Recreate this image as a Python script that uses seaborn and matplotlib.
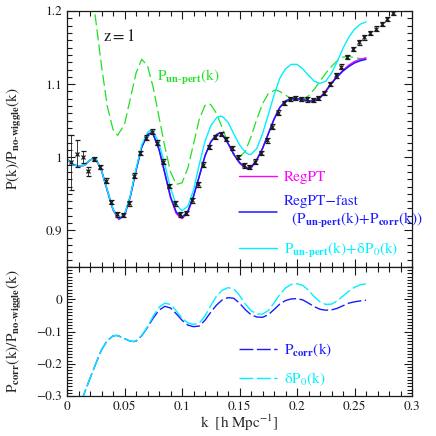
import matplotlib
matplotlib.use('Agg')
import matplotlib.pyplot as plt
import seaborn as sns
from matplotlib.ticker import MultipleLocator, FuncFormatter

# N-body data points (ratio to no-wiggle spectrum)
k_nbody = [0.0035, 0.0085, 0.0135, 0.0185, 0.0235, 0.0285, 0.0335, 0.0385, 0.0435, 0.0485,
           0.0535, 0.0585, 0.0635, 0.0685, 0.0735, 0.0785, 0.0835, 0.0885, 0.0935, 0.0985,
           0.1035, 0.1085, 0.1135, 0.1185, 0.1235, 0.1285, 0.1335, 0.1385, 0.1435, 0.1485,
           0.1535, 0.1585, 0.1635, 0.1685, 0.1735, 0.1785, 0.1835, 0.1885, 0.1935, 0.1985,
           0.2035, 0.2085, 0.2135, 0.2185, 0.2235, 0.2285, 0.2335, 0.2385, 0.2435, 0.2485,
           0.2535, 0.2585, 0.2635, 0.2685, 0.2735, 0.2785, 0.2835]
r_nbody = [0.993, 1.005, 1.000, 0.981, 0.998, 0.987, 0.968, 0.939, 0.922, 0.9215,
           0.937, 0.975, 1.006, 1.027, 1.035, 1.020, 0.994, 0.961, 0.937, 0.922,
           0.924, 0.941, 0.963, 0.990, 1.014, 1.028, 1.032, 1.025, 1.013, 1.000,
           0.989, 0.987, 0.994, 1.006, 1.023, 1.042, 1.061, 1.074, 1.080, 1.081,
           1.080, 1.079, 1.078, 1.081, 1.088, 1.100, 1.112, 1.124, 1.137, 1.148,
           1.157, 1.164, 1.170, 1.176, 1.182, 1.189, 1.197]
err_nbody = [0.038, 0.018, 0.008, 0.006] + [0.003] * 53

# model curves, top panel
k_model = [0.000, 0.005, 0.010, 0.015, 0.020, 0.023, 0.025, 0.030, 0.035, 0.040,
           0.045, 0.050, 0.055, 0.060, 0.065, 0.070, 0.0725, 0.075, 0.080, 0.085,
           0.090, 0.095, 0.100, 0.105, 0.110, 0.115, 0.120, 0.125, 0.130, 0.1325,
           0.135, 0.140, 0.145, 0.150, 0.155, 0.158, 0.160, 0.165, 0.170, 0.175,
           0.180, 0.185, 0.190, 0.195, 0.200, 0.205, 0.210, 0.215, 0.220, 0.225,
           0.230, 0.235, 0.240, 0.245, 0.250, 0.255, 0.260]
r_regpt_fast = [0.998, 0.990, 0.988, 0.989, 0.996, 0.999, 0.998, 0.982, 0.955, 0.929,
                0.916, 0.921, 0.946, 0.982, 1.014, 1.031, 1.033, 1.031, 1.011, 0.979,
                0.946, 0.925, 0.918, 0.926, 0.947, 0.974, 1.002, 1.021, 1.031, 1.033,
                1.031, 1.019, 1.004, 0.993, 0.986, 0.985, 0.986, 0.997, 1.012, 1.032,
                1.052, 1.068, 1.077, 1.080, 1.080, 1.079, 1.077, 1.077, 1.081, 1.090,
                1.101, 1.110, 1.118, 1.124, 1.129, 1.132, 1.134]
r_regpt = [0.998, 0.990, 0.988, 0.989, 0.996, 0.999, 0.998, 0.982, 0.954, 0.928,
           0.915, 0.920, 0.946, 0.982, 1.014, 1.031, 1.033, 1.031, 1.011, 0.978,
           0.945, 0.923, 0.916, 0.924, 0.946, 0.974, 1.002, 1.021, 1.031, 1.033,
           1.031, 1.019, 1.004, 0.992, 0.985, 0.984, 0.985, 0.996, 1.012, 1.032,
           1.052, 1.068, 1.077, 1.080, 1.080, 1.079, 1.077, 1.077, 1.082, 1.091,
           1.102, 1.111, 1.119, 1.126, 1.131, 1.134, 1.136]
r_unpert_dp0 = [0.998, 0.990, 0.988, 0.989, 0.996, 0.999, 0.998, 0.982, 0.955, 0.929,
                0.917, 0.922, 0.947, 0.984, 1.017, 1.034, 1.037, 1.036, 1.019, 0.990,
                0.958, 0.935, 0.927, 0.933, 0.955, 0.990, 1.022, 1.043, 1.054, 1.056,
                1.056, 1.048, 1.032, 1.017, 1.007, 1.004, 1.004, 1.012, 1.032, 1.058,
                1.085, 1.108, 1.121, 1.127, 1.127, 1.121, 1.112, 1.104, 1.101, 1.104,
                1.115, 1.131, 1.149, 1.164, 1.175, 1.182, 1.185]

k_unpert = [0.020, 0.024, 0.030, 0.035, 0.040, 0.044, 0.050, 0.055, 0.060, 0.065,
            0.070, 0.075, 0.080, 0.085, 0.090, 0.095, 0.100, 0.105, 0.110, 0.115,
            0.120, 0.123, 0.125, 0.130, 0.135, 0.140, 0.145, 0.150, 0.155, 0.160,
            0.165, 0.170, 0.175, 0.181, 0.185, 0.190, 0.195, 0.200, 0.205, 0.210,
            0.215, 0.220, 0.225, 0.230, 0.235, 0.240, 0.245, 0.250, 0.255, 0.260]
r_unpert = [1.260, 1.200, 1.125, 1.070, 1.038, 1.030, 1.045, 1.080, 1.115, 1.134,
            1.125, 1.095, 1.055, 1.015, 0.980, 0.963, 0.965, 0.985, 1.018, 1.052,
            1.071, 1.0735, 1.072, 1.060, 1.040, 1.020, 1.005, 1.000, 1.008, 1.028,
            1.052, 1.073, 1.087, 1.092, 1.090, 1.085, 1.080, 1.078, 1.079, 1.084,
            1.093, 1.104, 1.115, 1.124, 1.132, 1.137, 1.138, 1.136, 1.135, 1.134]

# correction terms, bottom panel
k_corr = [0.012, 0.015, 0.020, 0.025, 0.030, 0.035, 0.040, 0.043, 0.045, 0.050,
          0.055, 0.058, 0.060, 0.065, 0.070, 0.075, 0.080, 0.085, 0.090, 0.095,
          0.100, 0.105, 0.110, 0.115, 0.120, 0.125, 0.130, 0.135, 0.140, 0.145,
          0.150, 0.155, 0.160, 0.165, 0.170, 0.175, 0.180, 0.185, 0.190, 0.195,
          0.200, 0.205, 0.210, 0.215, 0.220, 0.225, 0.230, 0.235, 0.240, 0.245,
          0.250, 0.255, 0.260]
r_pcorr = [-0.320, -0.292, -0.245, -0.200, -0.157, -0.128, -0.114, -0.112, -0.114, -0.122,
           -0.130, -0.131, -0.130, -0.113, -0.087, -0.058, -0.034, -0.022, -0.027, -0.045,
           -0.065, -0.080, -0.085, -0.083, -0.065, -0.040, -0.018, -0.002, 0.005, 0.003,
           -0.012, -0.032, -0.048, -0.055, -0.056, -0.048, -0.032, -0.015, -0.004, 0.001,
           0.002, -0.002, -0.012, -0.023, -0.031, -0.034, -0.033, -0.028, -0.020, -0.012,
           -0.008, -0.005, -0.003]
r_dp0 = [-0.320, -0.292, -0.245, -0.200, -0.157, -0.128, -0.114, -0.112, -0.114, -0.122,
         -0.130, -0.131, -0.129, -0.112, -0.085, -0.052, -0.025, -0.012, -0.016, -0.036,
         -0.058, -0.073, -0.078, -0.074, -0.052, -0.020, 0.010, 0.028, 0.036, 0.032,
         0.012, -0.015, -0.035, -0.046, -0.046, -0.035, -0.012, 0.015, 0.035, 0.046,
         0.048, 0.043, 0.028, 0.008, -0.008, -0.016, -0.015, -0.005, 0.010, 0.025,
         0.037, 0.045, 0.048]

sns.set_theme(style='ticks')
plt.rcParams['font.family'] = ['STIXGeneral', 'DejaVu Serif']
plt.rcParams['mathtext.fontset'] = 'stix'
plt.rcParams['lines.scale_dashes'] = False

green = '#22e022'
magenta = '#ff00ff'
blue = '#1a1aff'
cyan = '#00f0ff'

fig = plt.figure(figsize=(4.36, 4.36), dpi=100)
ax1 = fig.add_axes([0.1537, 0.3876, 0.7913, 0.5872])
ax2 = fig.add_axes([0.1537, 0.0917, 0.7913, 0.2959])

fmt = FuncFormatter(lambda v, p: ('%g' % round(v, 3)).replace('-', '\u2212'))

# top panel
sns.lineplot(x=k_unpert, y=r_unpert, ax=ax1, color=green, linewidth=0.9, sort=False, estimator=None)
ax1.lines[-1].set_dashes([8, 3])
sns.lineplot(x=k_model, y=r_regpt, ax=ax1, color=magenta, linewidth=1.0, sort=False, estimator=None)
l_regpt = ax1.lines[-1]
sns.lineplot(x=k_model, y=r_regpt_fast, ax=ax1, color=blue, linewidth=1.1, sort=False, estimator=None)
l_fast = ax1.lines[-1]
sns.lineplot(x=k_model, y=r_unpert_dp0, ax=ax1, color=cyan, linewidth=1.0, sort=False, estimator=None)
l_dp0 = ax1.lines[-1]
ax1.errorbar(k_nbody, r_nbody, yerr=err_nbody, fmt='x', color='k', ms=3.2, mew=0.9,
             elinewidth=0.6, capsize=1.8, capthick=0.6, zorder=5)

ax1.set_xlim(0, 0.3)
ax1.set_ylim(0.85, 1.2)
ax1.xaxis.set_major_locator(MultipleLocator(0.05))
ax1.xaxis.set_minor_locator(MultipleLocator(0.01))
ax1.yaxis.set_major_locator(MultipleLocator(0.1))
ax1.yaxis.set_minor_locator(MultipleLocator(0.01))
ax1.yaxis.set_major_formatter(fmt)
ax1.tick_params(labelbottom=False)
ax1.set_ylabel(r'$\mathrm{P(k)/P_{\mathbf{no\text{-}wiggle}}(k)}$', fontsize=11)
ax1.yaxis.set_label_coords(-0.125, 0.5)

ax1.text(0.103, 0.898, r'$\mathrm{z = 1}$', transform=ax1.transAxes, fontsize=12,
         va='center', ha='left', color='k')
ax1.text(0.262, 0.742, r'$\mathrm{P_{\mathbf{un\text{-}pert}}(k)}$', transform=ax1.transAxes,
         fontsize=11, va='center', ha='left', color=green)

ax1.legend([l_regpt, l_fast, l_dp0],
           ['RegPT',
            'RegPT\u2212fast\n' + r'  $\mathrm{(P_{\mathbf{un\text{-}pert}}(k)\!+\!P_{\mathbf{corr}}(k))}$',
            r'$\mathrm{P_{\mathbf{un\text{-}pert}}(k)\!+\!\delta P_0(k)}$'],
           loc='upper left', bbox_to_anchor=(0.48, 0.40), frameon=False,
           fontsize=11, handlelength=2.5, handletextpad=0.45, labelspacing=0.7,
           labelcolor='linecolor', borderaxespad=0)

# bottom panel
sns.lineplot(x=k_corr, y=r_pcorr, ax=ax2, color=blue, linewidth=1.0, sort=False, estimator=None)
l_pcorr = ax2.lines[-1]
l_pcorr.set_dashes([10, 2.5])
sns.lineplot(x=k_corr, y=r_dp0, ax=ax2, color=cyan, linewidth=1.0, sort=False, estimator=None)
l_dp0b = ax2.lines[-1]
l_dp0b.set_dashes([10, 2.5])

ax2.set_xlim(0, 0.3)
ax2.set_ylim(-0.3, 0.1)
ax2.xaxis.set_major_locator(MultipleLocator(0.05))
ax2.xaxis.set_minor_locator(MultipleLocator(0.01))
ax2.yaxis.set_major_locator(MultipleLocator(0.1))
ax2.yaxis.set_minor_locator(MultipleLocator(0.01))
ax2.xaxis.set_major_formatter(fmt)
ax2.yaxis.set_major_formatter(fmt)
ax2.set_yticks([-0.3, -0.2, -0.1, 0])
ax2.set_xlabel(r'$\mathrm{k\ \ [h\ Mpc^{-1}]}$', fontsize=11, labelpad=0)
ax2.set_ylabel(r'$\mathrm{P_{\mathbf{corr}}(k)/P_{\mathbf{no\text{-}wiggle}}(k)}$', fontsize=11)
ax2.yaxis.set_label_coords(-0.125, 0.5)

ax2.legend([l_pcorr, l_dp0b],
           [r'$\mathrm{P_{\mathbf{corr}}(k)}$', r'$\mathrm{\delta P_0(k)}$'],
           loc='upper left', bbox_to_anchor=(0.48, 0.47), frameon=False,
           fontsize=11, handlelength=2.5, handletextpad=0.45, labelspacing=0.75,
           labelcolor='linecolor', borderaxespad=0)

for ax in (ax1, ax2):
    ax.tick_params(which='both', direction='in', top=True, right=True, width=0.8,
                   colors='k', labelsize=9.5, labelcolor='k')
    ax.tick_params(which='major', length=6)
    ax.tick_params(which='minor', length=3.5)
    for s in ax.spines.values():
        s.set_linewidth(0.9)
        s.set_color('k')

fig.savefig('out.png', dpi=100)
